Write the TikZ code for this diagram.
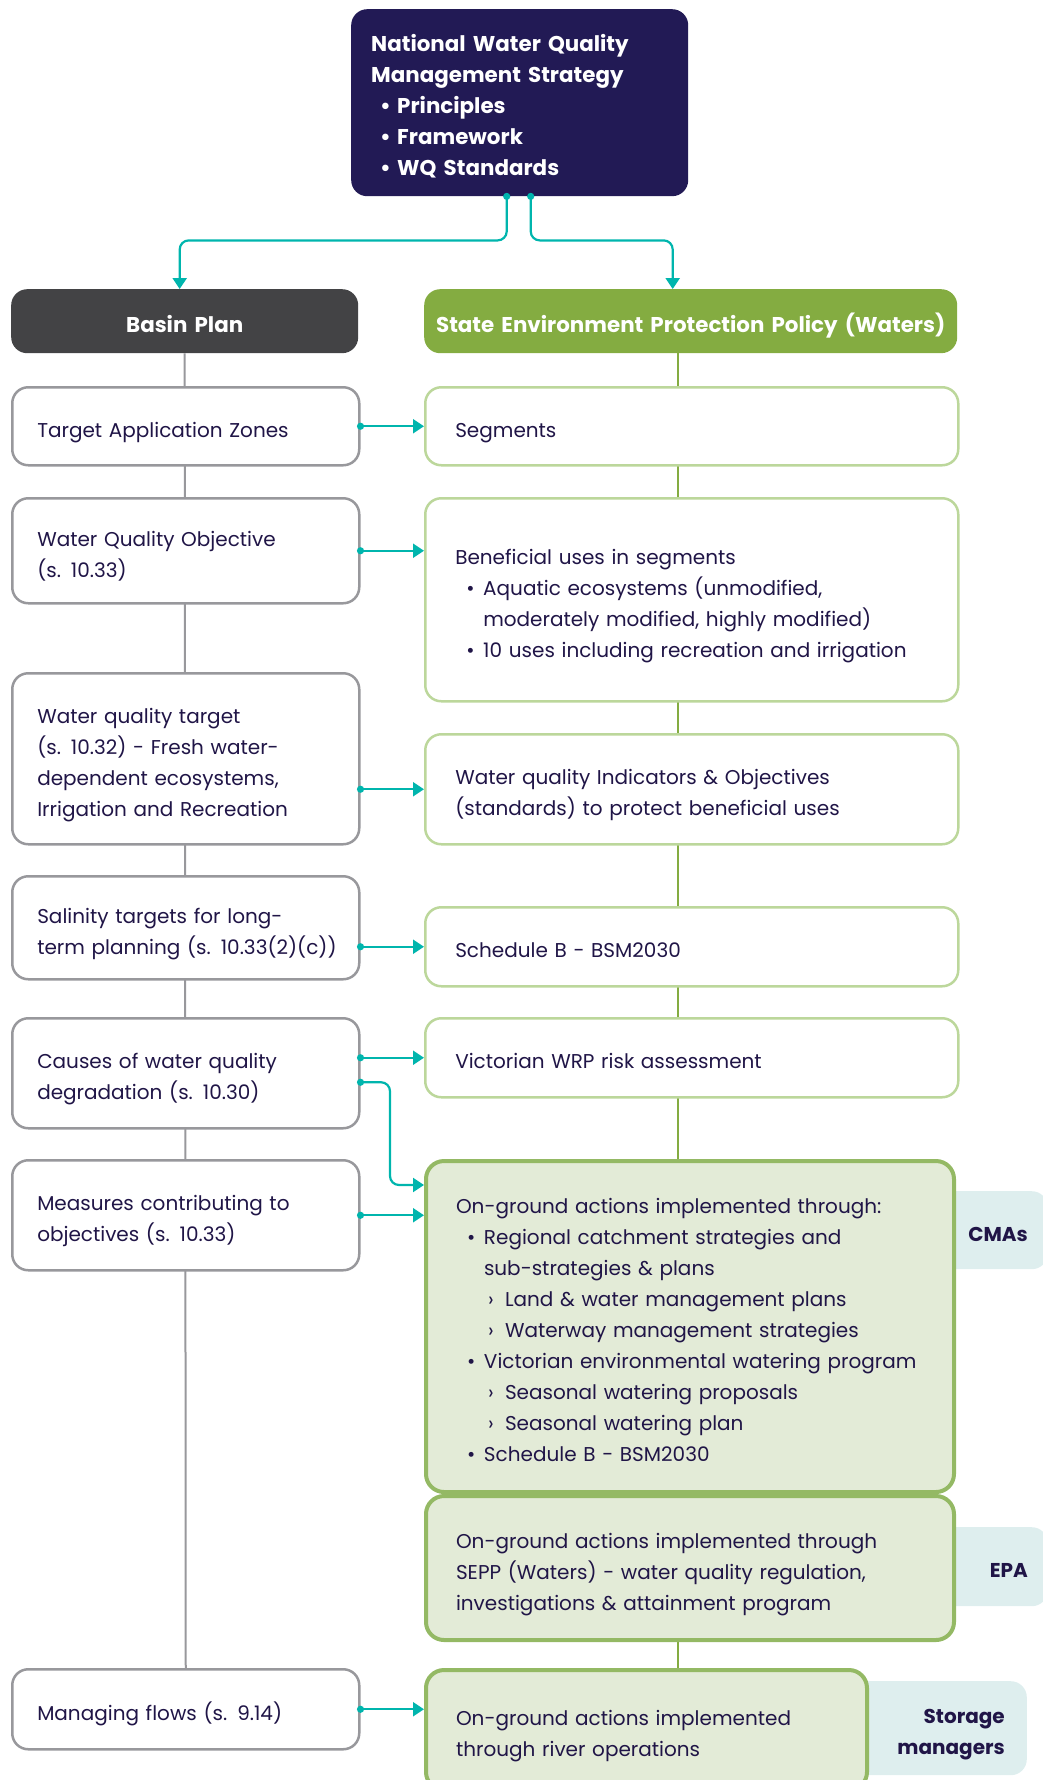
\documentclass[tikz,border=0pt]{standalone}
\usepackage{fontspec}
\setmainfont{Poppins}
\usetikzlibrary{arrows.meta,backgrounds}

\definecolor{navy}{HTML}{221A55}
\definecolor{inkblue}{HTML}{201547}
\definecolor{charcoal}{HTML}{434345}
\definecolor{leaf}{HTML}{84AC41}
\definecolor{paleleaf}{HTML}{BCD79B}
\definecolor{mossleaf}{HTML}{94B964}
\definecolor{mossfill}{HTML}{E3EBD7}
\definecolor{tabfill}{HTML}{DEEEEE}
\definecolor{flowteal}{HTML}{00B5AD}
\definecolor{boxgrey}{HTML}{98989C}

% bullets for the lists
\newcommand{\tbul}{\hspace*{9pt}\makebox[17pt][l]{•}}
\newcommand{\bul}{\hspace*{11pt}\makebox[17pt][l]{•}}
\newcommand{\subb}{\hspace*{32pt}\makebox[17pt][l]{›}}
\newcommand{\cont}{\hspace*{28pt}}

\tikzset{
  every node/.style={font=\fontsize{20}{31}\selectfont, text=inkblue, align=left,
    anchor=north west, inner ysep=0pt,
    execute at begin node={\rule{0pt}{29pt}},
    execute at end node={\rule[-7pt]{0pt}{7pt}}},
  topbox/.style={fill=navy, text=white, font=\fontsize{21.4}{31}\selectfont\bfseries,
    rounded corners=16pt, text width=297pt, inner xsep=20pt, minimum height=187pt},
  headbox/.style={text=white, font=\fontsize{21.4}{31}\selectfont\bfseries, align=center,
    rounded corners=16pt, inner xsep=10pt, minimum height=64pt},
  leftbox/.style={draw=boxgrey, line width=2.5pt, fill=white, rounded corners=16pt,
    text width=297pt, inner xsep=25pt},
  rightbox/.style={draw=paleleaf, line width=2.5pt, fill=white, rounded corners=16pt,
    text width=473pt, inner xsep=30pt},
  actbox/.style={draw=mossleaf, line width=4pt, fill=mossfill, rounded corners=18pt,
    inner xsep=30pt},
  tabbox/.style={fill=tabfill, rounded corners=16pt, anchor=north east, align=right,
    font=\fontsize{20}{31}\selectfont\bfseries},
  greyline/.style={draw=boxgrey, line width=2pt},
  greenline/.style={draw=leaf, line width=2pt},
  flow/.style={draw=flowteal, line width=2.2pt, rounded corners=9pt,
    {Circle[length=7pt]}-{Triangle[length=11pt,width=14pt]}, shorten <=-3.5pt}
}

\begin{document}
\begin{tikzpicture}[x=1pt,y=-1pt]
\useasboundingbox (0,0) rectangle (1043,1780);

% agency tabs, sitting behind the action boxes
\node[tabbox, text width=78pt, inner xsep=20pt, minimum height=78pt] (cmatab) at (1048,1191) {CMAs};
\node[tabbox, text width=78pt, inner xsep=20pt, minimum height=79pt] (epatab) at (1048,1527) {EPA};
\node[tabbox, text width=133pt, inner xsep=22pt, minimum height=94pt] (storetab) at (1027,1681) {Storage\\managers};

\node[topbox] (nwqms) at (351,9) {National Water Quality\\Management Strategy\\\tbul Principles\\\tbul Framework\\\tbul WQ Standards};

\node[headbox, fill=charcoal, text width=327pt] (basin) at (11,289) {Basin Plan};
\node[headbox, fill=leaf, text width=513pt] (sepp) at (424,289) {State Environment Protection Policy (Waters)};

% Basin Plan column
\node[leftbox, minimum height=78pt] (zones) at (11,386) {Target Application Zones};
\node[leftbox, minimum height=105pt] (objective) at (11,497) {Water Quality Objective\\(s. 10.33)};
\node[leftbox, minimum height=171pt] (target) at (11,672) {Water quality target\\(s. 10.32) - Fresh water-\\dependent ecosystems,\\Irrigation and Recreation};
\node[leftbox, minimum height=103pt] (salinity) at (11,875) {Salinity targets for long-\\\mbox{term planning (s. 10.33(2)(c))}};
\node[leftbox, minimum height=110pt] (causes) at (11,1017) {Causes of water quality\\degradation (s. 10.30)};
\node[leftbox, minimum height=110pt] (measures) at (11,1159) {Measures contributing to\\objectives (s. 10.33)};
\node[leftbox, minimum height=80pt] (managing) at (11,1668) {Managing flows (s. 9.14)};

% SEPP column
\node[rightbox, minimum height=78pt] (segments) at (424,386) {Segments};
\node[rightbox, minimum height=203pt] (uses) at (424,497) {Beneficial uses in segments\\\bul Aquatic ecosystems (unmodified,\\\cont moderately modified, highly modified)\\\bul 10 uses including recreation and irrigation};
\node[rightbox, minimum height=110pt] (indicators) at (424,733) {Water quality Indicators \& Objectives\\(standards) to protect beneficial uses};
\node[rightbox, minimum height=79pt] (schedule) at (424,906) {Schedule B - BSM2030};
\node[rightbox, minimum height=79pt] (wrp) at (424,1017) {Victorian WRP risk assessment};

\node[actbox, text width=468pt, minimum height=331pt] (cmas) at (424,1159) {On-ground actions implemented through:\\\bul Regional catchment strategies and\\\cont sub-strategies \& plans\\\subb Land \& water management plans\\\subb Waterway management strategies\\\bul Victorian environmental watering program\\\subb Seasonal watering proposals\\\subb Seasonal watering plan\\\bul Schedule B - BSM2030};
\node[actbox, text width=468pt, minimum height=144pt] (epa) at (424,1494) {On-ground actions implemented through\\SEPP (Waters) - water quality regulation,\\investigations \& attainment program};
\node[actbox, text width=381pt, minimum height=120pt] (storage) at (424,1668) {On-ground actions implemented\\through river operations};

\begin{scope}[on background layer]
\draw[greyline] (basin.south) -- (managing.north);
\draw[greenline] ([xshift=-13pt]sepp.south) -- ([xshift=-13pt]sepp.south |- storage.north);
\end{scope}

\draw[flow] ([xshift=-13pt]nwqms.south) -- ++(0,44) -| ([xshift=-5pt]basin.north);
\draw[flow] ([xshift=11pt]nwqms.south) -- ++(0,44) -| ([xshift=-18pt]sepp.north);

\draw[flow] (zones.east) -- (segments.west);
\draw[flow] (objective.east) -- (objective.east -| uses.west);
\draw[flow] (target.east |- indicators.west) -- (indicators.west);
\draw[flow] (salinity.east |- schedule.west) -- (schedule.west);
\draw[flow] (causes.east |- wrp.west) -- (wrp.west);
\draw[flow] ([yshift=-9pt]causes.east) -| ([xshift=-34pt,yshift=-26pt]cmas.north west) -- ([yshift=-26pt]cmas.north west);
\draw[flow] (measures.east) -- (measures.east -| cmas.west);
\draw[flow] (managing.east) -- (managing.east -| storage.west);
\end{tikzpicture}
\end{document}
